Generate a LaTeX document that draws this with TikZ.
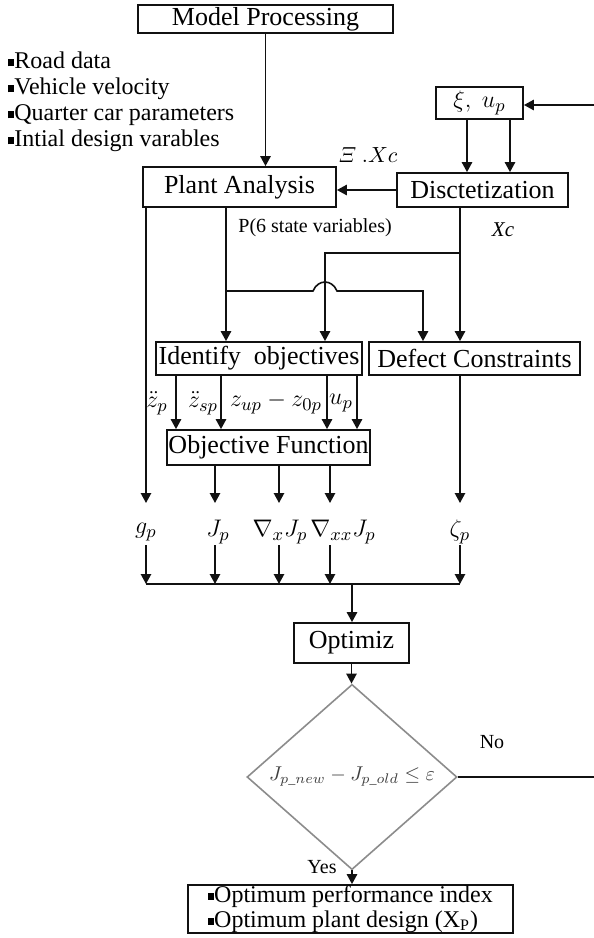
\documentclass[tikz,border=0pt]{standalone}
\usepackage{fontspec}
\setmainfont{Liberation Serif}
\usepackage{amsmath}
\usepackage{amssymb}
\usetikzlibrary{
  arrows.meta,
  shapes.geometric,
  positioning,
  calc
}
\definecolor{fcInk}{HTML}{111111}
\definecolor{fcGrey}{HTML}{8C8C8C}
\definecolor{fcMute}{HTML}{3F3F3F}
\newcommand{\sqb}{\raisebox{1.2pt}{\rule{3pt}{3.6pt}}}
\tikzset{
  fcnode/.style={
    draw=fcInk, line width=0.9pt, inner sep=0pt, align=center,
    font=\fontsize{13}{15}\selectfont
  },
  fcbox/.style={fcnode, fill=white},
  decide/.style={diamond, draw=fcGrey, line width=0.8pt, inner sep=0pt,
    text=fcMute, font=\fontsize{10}{12}\selectfont},
  flow/.style={-{Triangle[length=5pt, width=5.2pt]}, line width=0.8pt, fcInk},
  netline/.style={line width=0.8pt, fcInk},
  note/.style={font=\fontsize{12}{13}\selectfont, align=left, inner sep=0pt},
  tag/.style={font=\fontsize{10}{12}\selectfont, inner sep=1pt},
  mathtag/.style={font=\fontsize{13}{15}\selectfont, inner sep=0pt}
}

\begin{document}
\begin{tikzpicture}[x=0.5pt, y=-0.5pt]
  \useasboundingbox (0,0) rectangle (594,938);

  \node[fcbox, minimum width=127.5pt, minimum height=14pt] (model) at (265.5,19) {Model Processing};
  \node[note, anchor=west] (inputs) at (8,102) {\sqb Road data\\ \sqb Vehicle velocity\\ \sqb Quarter car parameters\\ \sqb Intial design varables};
  \node[fcbox, minimum width=96.5pt, minimum height=20pt] (plant) at (239.5,187) {Plant Analysis};
  \node[fcbox, minimum width=43.5pt, minimum height=16pt] (xi) at (479.5,103) {$\xi,\ u_p$};
  \node[fcbox, minimum width=85.5pt, minimum height=17pt] (disc) at (482.5,190) {Disctetization};
  \node[fcbox, minimum width=103pt, minimum height=16.5pt] (ident) at (259,358.5) {Identify~~objectives};
  \node[fcbox, minimum width=105.5pt, minimum height=16.5pt] (defect) at (474.5,358.5) {Defect Constraints};
  \node[fcbox, minimum width=101.5pt, minimum height=17.5pt] (objfn) at (268.5,447.5) {Objective Function};
  \node[fcbox, minimum width=57.5pt, minimum height=20pt] (optim) at (351.5,643) {Optimiz};
  \node[decide, minimum width=105pt, minimum height=63.5pt] (check) at (352,777) {$J_{p\_new}-J_{p\_old}\le\varepsilon$};
  \node[fcbox, minimum width=162.5pt, minimum height=24pt, align=left, font=\fontsize{12}{12.5}\selectfont] (result) at (350.5,909) {\sqb Optimum performance index\\ \sqb Optimum plant design (X\textsubscript{P})};

  \node[tag, font=\fontsize{11}{13}\selectfont] (xcin) at (368,155) {$\varXi\ .Xc$};
  \node[tag, anchor=west] (ptag) at (236,228) {P(6 state variables)};
  \node[tag, font=\fontsize{10.5}{12}\selectfont\itshape] (xctag) at (503,230) {Xc};
  \node[mathtag] (zpp) at (157,403) {$\ddot z_p$};
  \node[mathtag] (zsp) at (203,403) {$\ddot z_{sp}$};
  \node[mathtag] (zrel) at (276,403) {$z_{up}-z_{0p}$};
  \node[mathtag] (upl) at (341,403) {$u_p$};
  \node[mathtag] (gp) at (146,532) {$g_p$};
  \node[mathtag] (jp) at (218,532) {$J_p$};
  \node[mathtag] (gjp) at (280,532) {$\nabla_{x}J_p$};
  \node[mathtag] (hjp) at (343,532) {$\nabla_{xx}J_p$};
  \node[mathtag] (zetap) at (460,532) {$\zeta_p$};
  \node[tag] (nolbl) at (492,742) {No};
  \node[tag] (yeslbl) at (322,867) {Yes};

  \coordinate (inR) at (594,105);
  \coordinate (outR) at (594,777);
  \coordinate (pm) at (226,291);
  \coordinate (xj) at (460,253);
  \coordinate (ob) at (325,253);
  \coordinate (hp) at (423,291);
  \coordinate (busl) at (146,584);
  \coordinate (busr) at (460,584);
  \coordinate (busm) at (352,584);
  \foreach \n/\x in {g/146, j/215, gx/279, gxx/330, z/460}{
    \coordinate (\n-a) at (\x,503);
    \coordinate (\n-b) at (\x,545);
    \coordinate (\n-c) at (\x,584);
  }

  \draw[flow] (model.south) -- (model.south |- plant.north);
  \draw[flow] (inR) -- (inR -| xi.east);
  \foreach \x in {467,510}{
    \coordinate (t) at (\x,0);
    \draw[flow] (xi.south -| t) -- (disc.north -| t);
  }
  \draw[flow] (disc.west) -- (disc.west -| plant.east);
  \draw[flow] (plant.south -| pm) -- (ident.north -| pm);
  \draw[flow] (disc.south -| xj) -- (defect.north -| xj);
  \draw[flow] (xj) -- (ob) -- (ident.north -| ob);
  \draw[flow] (pm) -- ([xshift=-6pt]pm -| ob) .. controls +(2.5pt,6pt) and +(-2.5pt,6pt) .. ([xshift=6pt]pm -| ob) -- (hp) -- (defect.north -| hp);
  \foreach \x in {176,221,327,357}{
    \coordinate (t) at (\x,0);
    \draw[flow] (ident.south -| t) -- (objfn.north -| t);
  }
  \draw[flow] (plant.south -| g-a) -- (g-a);
  \foreach \n in {j,gx,gxx}{\draw[flow] (objfn.south -| \n-a) -- (\n-a);}
  \draw[flow] (defect.south -| z-a) -- (z-a);
  \foreach \n in {g,j,gx,gxx,z}{\draw[flow] (\n-b) -- (\n-c);}
  \draw[netline] (busl) -- (busr);
  \draw[flow] (busm) -- (busm |- optim.north);
  \draw[flow] (optim.south) -- (optim.south |- check.north);
  \draw[netline] (check.east) -- (outR);
  \draw[flow] (check.south) -- (check.south |- result.north);
\end{tikzpicture}
\end{document}
